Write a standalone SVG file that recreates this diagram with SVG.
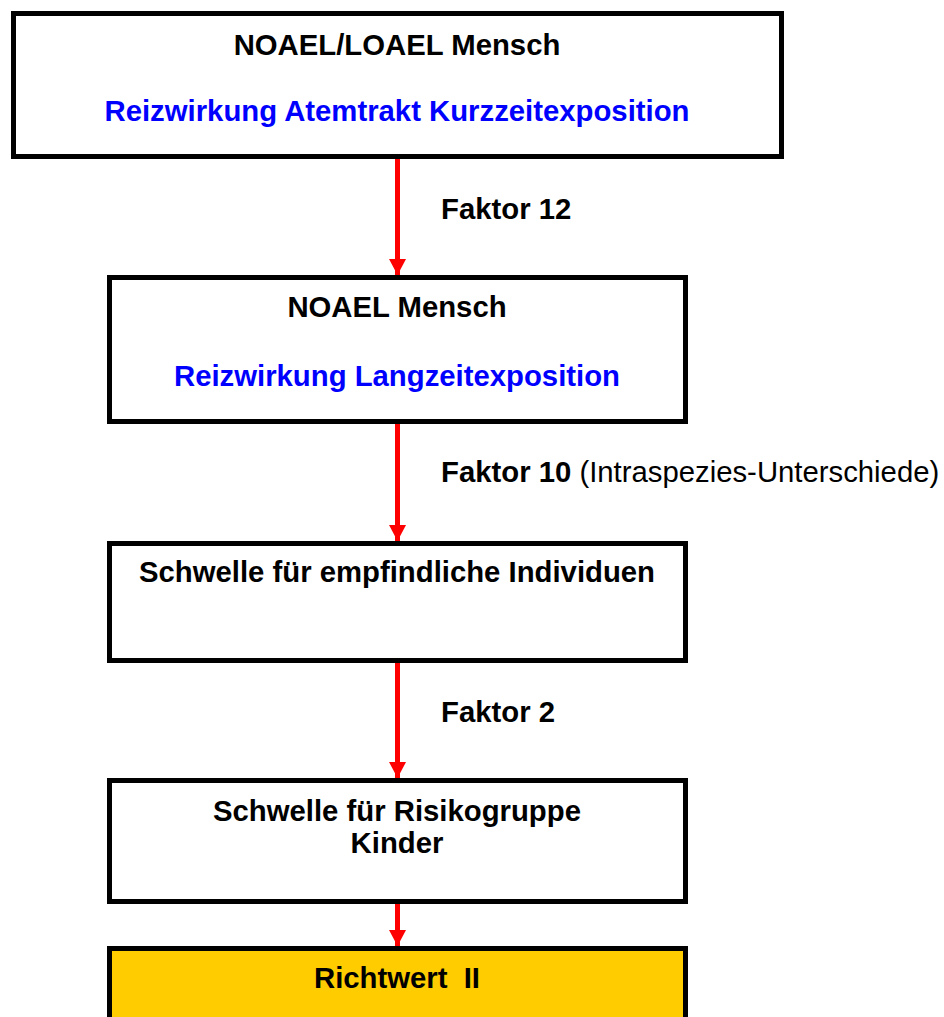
<svg xmlns="http://www.w3.org/2000/svg" width="944" height="1017" viewBox="0 0 944 1017">
  <defs>
    <style>
      .box { fill: #ffffff; stroke: #000000; stroke-width: 5; }
      .final { fill: #ffcc00; stroke: #000000; stroke-width: 5; }
      .t { font-family: "Liberation Sans", Arial, sans-serif; font-size: 29.3px; font-weight: bold; fill: #000000; }
      .c { text-anchor: middle; }
      .blue { fill: #0000ff; }
      .reg { font-weight: normal; }
      .arrow { stroke: #ff0000; stroke-width: 5; fill: none; marker-end: url(#head); }
    </style>
    <!-- arrowhead drawn along +x so orient="auto" turns it to follow the line -->
    <marker id="head" viewBox="0 0 16 17" refX="16" refY="8.5" markerWidth="16" markerHeight="17" markerUnits="userSpaceOnUse" orient="auto">
      <path d="M0,0 L16,8.5 L0,17 Z" fill="#ff0000"/>
    </marker>
  </defs>

  <g id="connectors">
    <line class="arrow" x1="397.5" y1="159" x2="397.5" y2="275"/>
    <line class="arrow" x1="397.5" y1="424" x2="397.5" y2="541"/>
    <line class="arrow" x1="397.5" y1="663" x2="397.5" y2="778"/>
    <line class="arrow" x1="397.5" y1="904" x2="397.5" y2="946"/>
    <text class="t" x="441" y="219">Faktor 12</text>
    <text class="t" x="441" y="482">Faktor 10 <tspan class="reg">(Intraspezies-Unterschiede)</tspan></text>
    <text class="t" x="441" y="722">Faktor 2</text>
  </g>

  <g id="node-noael-loael">
    <rect class="box" x="13.5" y="13.5" width="768" height="143"/>
    <text class="t c" x="397" y="55">NOAEL/LOAEL Mensch</text>
    <text class="t c blue" x="397" y="121">Reizwirkung Atemtrakt Kurzzeitexposition</text>
  </g>

  <g id="node-noael">
    <rect class="box" x="109.5" y="277.5" width="576" height="144"/>
    <text class="t c" x="397" y="317">NOAEL Mensch</text>
    <text class="t c blue" x="397" y="386">Reizwirkung Langzeitexposition</text>
  </g>

  <g id="node-empfindlich">
    <rect class="box" x="109.5" y="543.5" width="576" height="117"/>
    <text class="t c" x="397" y="582">Schwelle für empfindliche Individuen</text>
  </g>

  <g id="node-kinder">
    <rect class="box" x="109.5" y="780.5" width="576" height="121"/>
    <text class="t c" x="397" y="821">Schwelle für Risikogruppe</text>
    <text class="t c" x="397" y="853">Kinder</text>
  </g>

  <g id="node-richtwert">
    <rect class="final" x="109.5" y="948.5" width="576" height="80"/>
    <text class="t c" x="397" y="988">Richtwert&#160; II</text>
  </g>
</svg>
